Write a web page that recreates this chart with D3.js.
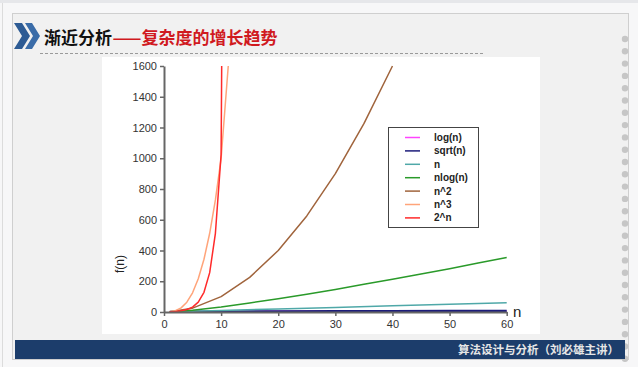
<!DOCTYPE html>
<html>
<head>
<meta charset="utf-8">
<script src="https://cdn.jsdelivr.net/npm/d3@7"></script>
<style>
  body { margin: 0; background: #f6f6f7; }
  svg { display: block; }
</style>
</head>
<body>
<div id="chart-area"></div>
<script>
// series: [n, f(n)]
var logN = [[1, 0], [5, 2.3], [10, 3.3], [20, 4.3], [30, 4.9], [40, 5.3], [50, 5.6], [60, 5.9]];
var sqrtN = [[1, 1], [5, 2.2], [10, 3.2], [20, 4.5], [30, 5.5], [40, 6.3], [50, 7.1], [60, 7.7]];
var linN = [[1, 1], [5, 5], [10, 10], [20, 20], [30, 30], [40, 40], [50, 50], [60, 60]];
var nLogN = [[1, 0], [5, 12], [10, 33], [15, 59], [20, 86], [25, 116], [30, 147], [35, 180],
	[40, 213], [45, 247], [50, 282], [55, 318], [60, 354]];
var nSq = [[1, 1], [5, 25], [10, 100], [15, 225], [20, 400], [25, 625], [30, 900], [35, 1225], [40, 1600]];
var nCube = [[1, 1], [2, 8], [3, 27], [4, 64], [5, 125], [6, 216], [7, 343], [8, 512], [9, 729],
	[10, 1000], [11.25, 1600]];
var twoN = [[1, 2], [2, 4], [3, 8], [4, 16], [5, 32], [6, 64], [7, 128], [8, 256], [9, 512],
	[10, 1024], [10.1, 1600]];

var seriesNames = ["log(n)", "sqrt(n)", "n", "nlog(n)", "n^2", "n^3", "2^n"];
var seriesData = [logN, sqrtN, linN, nLogN, nSq, nCube, twoN];
var seriesColors = ["#ff44ff", "#1c1c7a", "#4fa8a8", "#2a9a2a", "#a0643c", "#ffa47a", "#ff2a2a"];

var xTicks = [0, 10, 20, 30, 40, 50, 60];
var yTicks = [0, 200, 400, 600, 800, 1000, 1200, 1400, 1600];

var svg = d3.select("#chart-area").append("svg").attr("width", 638).attr("height", 367);

// slide background
svg.append("rect").attr("x", 0).attr("y", 0).attr("width", 638).attr("height", 367).attr("fill", "#f7f7f8");
svg.append("rect").attr("x", 0).attr("y", 0).attr("width", 638).attr("height", 3).attr("fill", "#e6e7ea");
svg.append("line").attr("x1", 2.5).attr("x2", 2.5).attr("y1", 3).attr("y2", 367).attr("stroke", "#dcdcdc");
svg.append("rect").attr("x", 12.5).attr("y", 13.5).attr("width", 616).attr("height", 346)
	.attr("fill", "#f1f1f1").attr("stroke", "#cfcfcf");

// dots on the right edge
for (var i = 0; i < 27; i++) {
	svg.append("circle").attr("cx", 625).attr("cy", 39 + i * 12.3).attr("r", 3.2).attr("fill", "#c6c6c6");
}

// header chevrons
var chev = svg.append("g").attr("fill", "#2d5b94");
chev.append("path").attr("d", "M14,23 L22,23 L30,36 L22,49 L14,49 L22,36 Z");
chev.append("path").attr("d", "M25,23 L32,23 L40,36 L32,49 L25,49 L33,36 Z").attr("fill", "#3a6ca8");

svg.append("text").attr("x", 44).attr("y", 44)
	.attr("font-family", "Noto Sans CJK SC").attr("font-weight", "bold").attr("font-size", 17)
	.attr("fill", "#111").text("渐近分析");
svg.append("text").attr("x", 112.5).attr("y", 44)
	.attr("font-family", "Noto Sans CJK SC").attr("font-weight", "bold").attr("font-size", 17)
	.attr("fill", "#d01a1f").text("——复杂度的增长趋势");

svg.append("line").attr("x1", 40).attr("x2", 483).attr("y1", 53.5).attr("y2", 53.5)
	.attr("stroke", "#9a9a9a").attr("stroke-dasharray", "3,2");

// footer
svg.append("rect").attr("x", 15).attr("y", 340).attr("width", 610).attr("height", 19).attr("fill", "#1c3d6b");
svg.append("text").attr("x", 619).attr("y", 354).attr("text-anchor", "end")
	.attr("font-family", "Noto Sans CJK SC").attr("font-weight", "bold").attr("font-size", 11.5).attr("fill", "#e6e6e6")
	.text("算法设计与分析（刘必雄主讲）");

// chart panel
svg.append("rect").attr("x", 102).attr("y", 57).attr("width", 438).attr("height", 277).attr("fill", "#ffffff");

var margin = {left: 164, top: 66};
var width = 506.7 - 164;
var height = 312 - 66;

var x = d3.scaleLinear().domain([0, 60]).range([0, width]);
var y = d3.scaleLinear().domain([0, 1600]).range([height, 0]);

var g = svg.append("g").attr("transform", "translate(" + margin.left + ", " + margin.top + ")");

var line = d3.line().x(d => x(d[0])).y(d => y(d[1]));

g.selectAll("path.series").data(seriesData).enter().append("path")
	.attr("class", "series")
	.attr("d", d => line(d))
	.attr("fill", "none")
	.attr("stroke", (d, i) => seriesColors[i])
	.attr("stroke-linejoin", "round")
	.attr("stroke-width", (d, i) => i == 1 ? 2.2 : 1.5);

var leftAxisGroup = g.append("g")
	.call(d3.axisLeft(y).tickValues(yTicks).tickFormat(d3.format("d")).tickSize(4).tickSizeOuter(0));
var bottomAxisGroup = g.append("g").attr("transform", "translate(0, " + height + ")")
	.call(d3.axisBottom(x).tickValues(xTicks).tickFormat(d3.format("d")).tickSize(4).tickSizeOuter(0));

[leftAxisGroup, bottomAxisGroup].forEach(function(ag) {
	ag.select(".domain").attr("stroke", "#666").attr("stroke-width", 2);
	ag.selectAll(".tick line").attr("stroke", "#666").attr("stroke-width", 1.5);
	ag.selectAll("text").attr("font-family", "Liberation Sans").attr("font-size", 11).attr("fill", "#333");
});
bottomAxisGroup.selectAll("text").attr("y", 8);

svg.append("text")
	.attr("transform", "translate(124, 264) rotate(-90)")
	.attr("text-anchor", "middle")
	.attr("font-family", "Liberation Sans").attr("font-size", 12).attr("fill", "#222")
	.text("f(n)");

svg.append("text").attr("x", 513).attr("y", 317)
	.attr("font-family", "Liberation Sans").attr("font-size", 15).attr("fill", "#222")
	.text("n");

// legend
var legend = svg.append("g").attr("transform", "translate(388, 127)");
legend.append("rect").attr("x", 0.5).attr("y", 0.5).attr("width", 90).attr("height", 100)
	.attr("fill", "#fff").attr("stroke", "#444");
var items = legend.selectAll("g.item").data(seriesNames).enter().append("g")
	.attr("class", "item")
	.attr("transform", (d, i) => "translate(0, " + (10.5 + i * 13.4) + ")");
items.append("line").attr("x1", 17).attr("x2", 32).attr("y1", 0).attr("y2", 0)
	.attr("stroke", (d, i) => seriesColors[i]).attr("stroke-width", 1.5);
items.append("text").attr("x", 46).attr("y", 3.5)
	.attr("font-family", "Liberation Sans").attr("font-weight", "bold").attr("font-size", 10).attr("fill", "#222")
	.text(d => d);
</script>
</body>
</html>
